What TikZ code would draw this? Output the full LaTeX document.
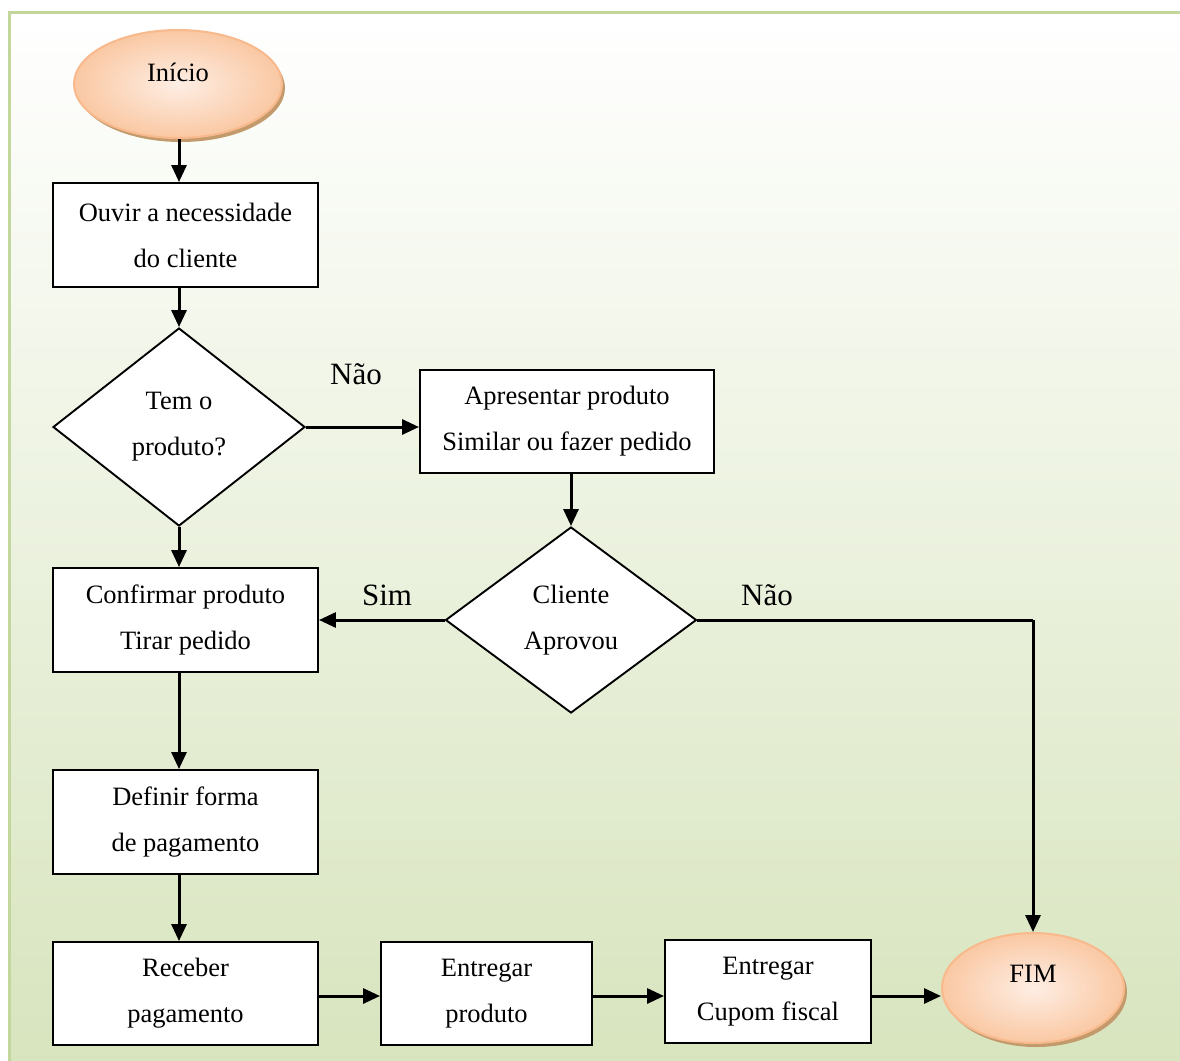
\documentclass[tikz,border=0pt]{standalone}
\usepackage{fontspec}
\setmainfont{Liberation Serif}
\usetikzlibrary{arrows.meta,shapes.geometric,shadows}

\definecolor{frameline}{HTML}{C3D69B}
\definecolor{bgbottom}{HTML}{D7E4BD}
\definecolor{peachouter}{HTML}{FAC8A3}
\definecolor{peachinner}{HTML}{FEEEE4}
\definecolor{peachline}{HTML}{F8B98C}
\definecolor{peachshadow}{HTML}{C29A6C}

\tikzset{
  every node/.style={font=\fontsize{26.5}{46}\selectfont, align=center},
  stepbox/.style={draw=black, line width=1.9pt, fill=white, rectangle,
    inner sep=0pt},
  decision/.style={draw=black, line width=1.9pt, fill=white, diamond,
    inner sep=0pt},
  terminal/.style={ellipse, draw=peachline, line width=2pt, inner sep=0pt,
    shading=radial, inner color=peachinner, outer color=peachouter,
    general shadow={shadow xshift=3pt, shadow yshift=-4pt, fill=peachshadow}},
  arr/.style={line width=3pt, -{Triangle[length=17pt,width=15pt]}},
  link/.style={line width=3pt},
  answer/.style={font=\fontsize{31}{36}\selectfont},
}

\begin{document}
\begin{tikzpicture}[x=1pt,y=-1pt]
  \useasboundingbox (0,0) rectangle (1180,1060);

  % page background with its green frame
  \fill[top color=white, bottom color=bgbottom] (9.5,12.5) rectangle (1195,1075);
  \draw[frameline, line width=3pt] (9.5,1075) -- (9.5,12.5) -- (1195,12.5);

  % terminals
  \node[terminal, minimum width=208, minimum height=108] (start) at (178,84)
    {\raisebox{24pt}{Início}};
  \node[terminal, minimum width=182, minimum height=110] (fim) at (1033,988)
    {\raisebox{29pt}{FIM}};

  % process steps
  \node[stepbox, minimum width=265, minimum height=104] (ouvir) at (185.5,235)
    {Ouvir a necessidade\\do cliente};
  \node[stepbox, minimum width=294, minimum height=103] (apresentar) at (567,421.5)
    {Apresentar produto\\Similar ou fazer pedido};
  \node[stepbox, minimum width=265, minimum height=104] (confirmar) at (185.5,620)
    {Confirmar produto\\Tirar pedido};
  \node[stepbox, minimum width=265, minimum height=104] (forma) at (185.5,822)
    {Definir forma\\de pagamento};
  \node[stepbox, minimum width=265, minimum height=103] (receber) at (185.5,993.5)
    {Receber\\pagamento};
  \node[stepbox, minimum width=211, minimum height=103] (entregar) at (486.5,993.5)
    {Entregar\\produto};
  \node[stepbox, minimum width=206, minimum height=103] (cupom) at (768,991.5)
    {Entregar\\Cupom fiscal};

  % decisions
  \node[decision, minimum width=252, minimum height=198] (temprod) at (179,427)
    {Tem o\\produto?};
  \node[decision, minimum width=251, minimum height=186] (aprovou) at (571,620)
    {Cliente\\Aprovou};

  % connectors
  \draw[arr] (start.south -| temprod.north) -- (ouvir.north -| temprod.north);
  \draw[arr] (ouvir.south -| temprod.north) -- (temprod.north);
  \draw[arr] (temprod.east) -- (apresentar.west |- temprod.east);
  \draw[arr] (apresentar.south -| aprovou.north) -- (aprovou.north);
  \draw[arr] (aprovou.west) -- (confirmar.east |- aprovou.west);
  \draw[link] (aprovou.east) -- (fim.north |- aprovou.east);
  \draw[arr] (fim.north |- aprovou.east) -- (fim.north);
  \draw[arr] (temprod.south) -- (confirmar.north -| temprod.south);
  \draw[arr] (confirmar.south -| temprod.south) -- (forma.north -| temprod.south);
  \draw[arr] (forma.south -| temprod.south) -- (receber.north -| temprod.south);
  \draw[arr] (receber.east |- 0,996) -- (entregar.west |- 0,996);
  \draw[arr] (entregar.east |- 0,996) -- (cupom.west |- 0,996);
  \draw[arr] (cupom.east |- 0,996) -- (fim.west |- 0,996);

  % branch answers
  \node[answer] (nao1) at (356,374) {Não};
  \node[answer] (sim) at (387,595) {Sim};
  \node[answer] (nao2) at (767,595) {Não};
\end{tikzpicture}
\end{document}
